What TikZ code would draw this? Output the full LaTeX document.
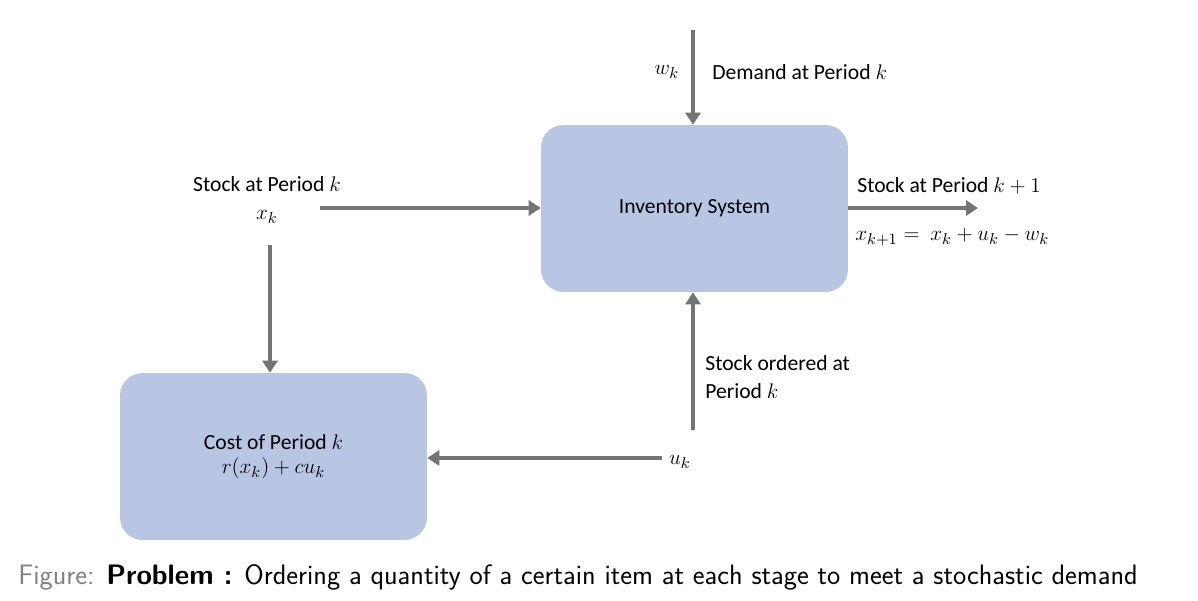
\documentclass[tikz,border=0pt]{standalone}
\usepackage{fontspec}
\newfontfamily\lbl{Carlito}
\usetikzlibrary{arrows.meta,positioning}
\definecolor{boxblue}{HTML}{B8C6E4}
\definecolor{arrgray}{HTML}{747474}
\tikzset{
  block/.style={fill=boxblue, rounded corners=0.45cm, minimum width=6.14cm, minimum height=3.34cm, align=center, font=\lbl\fontsize{12.3}{15}\selectfont},
  flow/.style={draw=arrgray, line width=0.08cm, -{Triangle[length=0.24cm,width=0.3cm]}},
  txt/.style={font=\lbl\fontsize{12.3}{15}\selectfont, inner sep=0pt}
}
\begin{document}
\begin{tikzpicture}[x=0.02cm,y=-0.02cm]
  \useasboundingbox (0,0) rectangle (1198,600);
  % Blocks
  \node[block] (sys) at (694.5,208.5) {Inventory System};
  \node[block] (cost) at (273.5,456.5) {Cost of Period $k$\\[-1pt]$r(x_k)+cu_k$};
  % Demand
  \coordinate (wtop) at (693,30);
  \node[txt] (w) at (667,72) {$w_k$};
  \node[txt, anchor=west] (dem) at (712,72) {Demand at Period $k$};
  \draw[flow] (wtop) -- (sys.north -| wtop);
  % Stock in
  \node[txt, align=center] (xk) at (267,200) {Stock at Period $k$\\[1pt]$x_k$};
  \coordinate (xin) at (320,208);
  \draw[flow] (xin) -- (sys.west |- xin);
  \coordinate (xdown) at (270,245);
  \draw[flow] (xdown) -- (cost.north -| xdown);
  % Stock out
  \coordinate (xout) at (978,208);
  \draw[flow] (sys.east |- xout) -- (xout);
  \node[txt, anchor=west] (next) at (857,186) {Stock at Period $k+1$};
  \node[txt, anchor=west] (eq) at (855,237) {$x_{k+1} = \ x_k + u_k - w_k$};
  % Order
  \node[txt] (u) at (680,462) {$u_k$};
  \coordinate (uup) at (693,430);
  \draw[flow] (uup) -- (sys.south -| uup);
  \node[txt, anchor=west, align=left] (ord) at (705,377) {Stock ordered at\\[1pt]Period $k$};
  \coordinate (uleft) at (662,458);
  \draw[flow] (uleft) -- (cost.east |- uleft);
  % Caption
  \node[anchor=west, inner sep=0pt, font=\sffamily\fontsize{16}{18}\selectfont] (cap) at (18,577)
    {\textcolor{gray}{Figure:} \textbf{Problem :} Ordering a quantity of a certain item at each stage to meet a stochastic demand};
\end{tikzpicture}
\end{document}
